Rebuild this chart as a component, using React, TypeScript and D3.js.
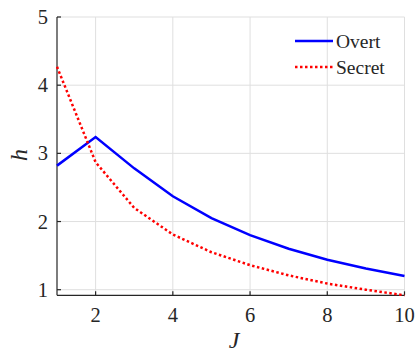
import React from 'react';
import * as d3 from 'd3';

const J = [1, 2, 3, 4, 5, 6, 7, 8, 9, 10];
const overt = [2.82, 3.24, 2.78, 2.37, 2.05, 1.8, 1.6, 1.44, 1.31, 1.2];
const secret = [4.27, 2.87, 2.2, 1.81, 1.55, 1.36, 1.21, 1.09, 1.0, 0.918];
const xTicks = [2, 4, 6, 8, 10];
const yTicks = [1, 2, 3, 4, 5];

const W = 418;
const H = 353;
const AX = '#262626';
const serif = { fontFamily: '"Liberation Serif"' };

const x = d3.scaleLinear().domain([1, 10]).range([57, 404.5]);
const y = d3.scaleLinear().domain([0.918, 5]).range([295.3, 17]);
const line = d3.line<number>().x((_, i) => x(J[i])).y(d => y(d));

const legend = [
  { name: 'Overt', color: '#0000ff', dash: undefined, values: overt },
  { name: 'Secret', color: '#ff0000', dash: '2.5 2.5', values: secret },
];

const App = () => {
  const [x0, x1] = x.range();
  const [y0, y1] = y.range();
  return (
    <svg width={W} height={H}
      style={{ position: 'absolute', left: 0, top: 0, background: '#fff' }}>
      {/* grid */}
      <g stroke="#dfdfdf" strokeWidth={1}>
        {xTicks.map(t => <line key={'gx' + t} x1={x(t)} x2={x(t)} y1={y0} y2={y1} />)}
        {yTicks.map(t => <line key={'gy' + t} x1={x0} x2={x1} y1={y(t)} y2={y(t)} />)}
      </g>

      {/* axes */}
      <g stroke={AX} strokeWidth={1.2}>
        <line x1={x0} x2={x1} y1={y0} y2={y0} />
        <line x1={x0} x2={x0} y1={y0} y2={y1} />
        {xTicks.map(t => <line key={'tx' + t} x1={x(t)} x2={x(t)} y1={y0} y2={y0 - 4} />)}
        {yTicks.map(t => <line key={'ty' + t} x1={x0} x2={x0 + 4} y1={y(t)} y2={y(t)} />)}
      </g>
      {xTicks.map(t => (
        <text key={'lx' + t} x={x(t)} y={y0 + 27} textAnchor="middle" fontSize={20.5} fill={AX}
          style={serif}>{t}</text>
      ))}
      {yTicks.map(t => (
        <text key={'ly' + t} x={x0 - 9} y={y(t) + 7} textAnchor="end" fontSize={20.5} fill={AX}
          style={serif}>{t}</text>
      ))}

      {/* series */}
      {legend.map(s => (
        <path key={s.name} d={line(s.values) ?? ''} fill="none" stroke={s.color}
          strokeWidth={2.5} strokeDasharray={s.dash} />
      ))}

      {/* axis labels */}
      <text x={234} y={348} textAnchor="middle" fontStyle="italic" fontSize={24} fill={AX}
        style={serif}>J</text>
      <text transform="translate(26.5,155) rotate(-90)" textAnchor="middle" fontStyle="italic"
        fontSize={24} fill={AX} style={serif}>h</text>

      {/* legend */}
      {legend.map((s, i) => (
        <g key={'lg' + s.name} transform={`translate(0,${41 + i * 26})`}>
          <line x1={295} x2={333} y1={0} y2={0} stroke={s.color} strokeWidth={2.5}
            strokeDasharray={s.dash} />
          <text x={336} y={6.5} fontSize={19.5} fill={AX} style={serif}>{s.name}</text>
        </g>
      ))}
    </svg>
  );
};

export default App;
